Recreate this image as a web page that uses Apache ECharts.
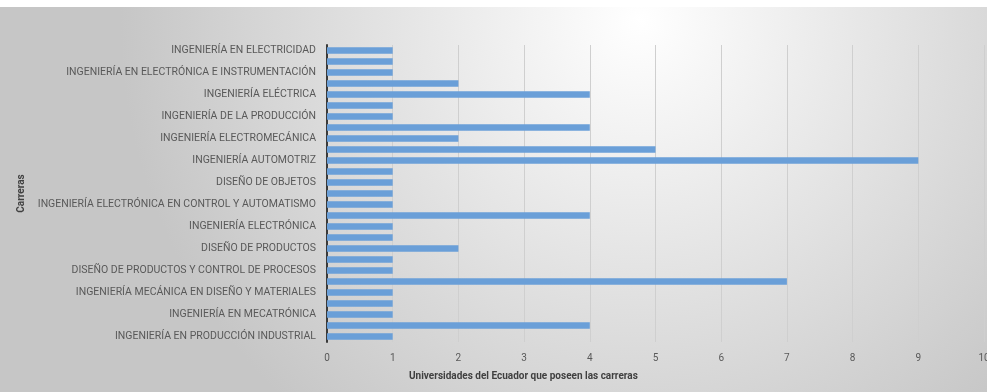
<!DOCTYPE html>
<html>
<head>
<meta charset="utf-8">
<script src="https://cdn.jsdelivr.net/npm/echarts@6/dist/echarts.min.js"></script>
<style>
  html, body { margin: 0; padding: 0; }
  #main { width: 987px; height: 392px; }
</style>
</head>
<body>
<div id="main"></div>
<script>
// category labels top to bottom; '' = label Excel skipped
const carreras = [
  'INGENIERÍA EN ELECTRICIDAD', '',
  'INGENIERÍA EN ELECTRÓNICA E INSTRUMENTACIÓN', '',
  'INGENIERÍA ELÉCTRICA', '',
  'INGENIERÍA DE LA PRODUCCIÓN', '',
  'INGENIERÍA ELECTROMECÁNICA', '',
  'INGENIERÍA AUTOMOTRIZ', '',
  'DISEÑO DE OBJETOS', '',
  'INGENIERÍA ELECTRÓNICA EN CONTROL Y AUTOMATISMO', '',
  'INGENIERÍA ELECTRÓNICA', '',
  'DISEÑO DE PRODUCTOS', '',
  'DISEÑO DE PRODUCTOS Y CONTROL DE PROCESOS', '',
  'INGENIERÍA MECÁNICA EN DISEÑO Y MATERIALES', '',
  'INGENIERÍA EN MECATRÓNICA', '',
  'INGENIERÍA EN PRODUCCIÓN INDUSTRIAL'
]
const universidades = [1, 1, 1, 2, 4, 1, 1, 4, 2, 5, 9, 1, 1, 1, 1, 4, 1, 1, 2, 1, 1, 7, 1, 1, 1, 4, 1]
const xTicks = [0, 10, 1]

const chart = echarts.init(document.getElementById('main'))
chart.setOption({
  animation: false,
  backgroundColor: {
    type: 'radial', x: 640, y: 20, r: 520, global: true,
    colorStops: [{ offset: 0, color: '#ffffff' }, { offset: 1, color: '#c6c6c6' }]
  },
  graphic: [{
    type: 'rect', left: 0, top: 0, silent: true, z: -1,
    shape: { width: 987, height: 7 },
    style: { fill: '#ffffff' }
  }],
  title: {
    text: 'Universidades del Ecuador que poseen las carreras',
    left: 404,
    top: 366,
    textStyle: { fontFamily: 'Roboto', fontSize: 10, fontWeight: 'bold', color: '#404040' }
  },
  grid: { left: 327, right: 3, top: 45, bottom: 50, outerBoundsMode: 'none' },
  xAxis: {
    type: 'value',
    min: xTicks[0],
    max: xTicks[1],
    interval: xTicks[2],
    axisLine: { show: false },
    axisTick: { show: false },
    axisLabel: { color: '#595959', fontFamily: 'Roboto', fontSize: 10, margin: 11 },
    splitLine: { lineStyle: { color: '#cfcfcf', width: 1 } }
  },
  yAxis: {
    type: 'category',
    inverse: true,
    data: carreras,
    name: 'Carreras',
    nameLocation: 'middle',
    nameGap: 300,
    nameTextStyle: { fontFamily: 'Roboto', fontSize: 10, fontWeight: 'bold', color: '#404040' },
    axisLine: { lineStyle: { color: '#3a3a3a', width: 2 } },
    axisTick: { show: false },
    axisLabel: { interval: 0, color: '#595959', fontFamily: 'Roboto', fontSize: 10.5, margin: 11 }
  },
  series: [{
    type: 'bar',
    data: universidades,
    barCategoryGap: '40%',
    itemStyle: { color: '#6a9fd8' }
  }]
})
</script>
</body>
</html>
